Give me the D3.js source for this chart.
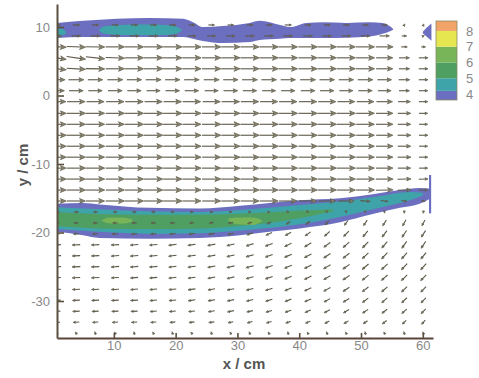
<!DOCTYPE html>
<html>
<head>
<meta charset="utf-8">
<script src="https://cdn.jsdelivr.net/npm/d3@7"></script>
<style>
  html, body { margin: 0; padding: 0; background: #fff; }
  svg { display: block; font-family: "Liberation Sans", Arial, sans-serif; }
</style>
</head>
<body>
<svg id="chart" width="479" height="378"></svg>
<script>
// ---- axis ticks -------------------------------------------------------
const xTicks = [10, 20, 30, 40, 50, 60];
const yTicks = [-30, -20, -10, 0, 10];

// ---- colour key (contour levels) ------------------------------------
const levelBounds = [3.62, 4.2, 5, 6, 7, 8, 8.63];
const levelColors = ["#6c6fc0", "#3fa3aa", "#4f9e62", "#78b458", "#e6e650", "#f2a468"];
const keyTicks = [4, 5, 6, 7, 8];

// ---- measurement grid (cm) ------------------------------------------
const gridX = [0.8, 3.9, 7.0, 10.2, 13.3, 16.4, 19.5, 22.6, 25.8, 28.9,
               32.0, 35.1, 38.2, 41.4, 44.5, 47.6, 50.7, 53.8, 57.0, 60.1];
const gridY = [10.3, 8.7, 7.1, 5.5, 3.9, 2.3, 0.7, -0.9, -2.6, -4.2,
               -5.8, -7.4, -9.0, -10.6, -12.2, -13.8, -15.4, -17.0, -18.6, -20.2,
               -21.8, -23.4, -25.0, -26.6, -28.3, -29.9, -31.5, -33.1, -34.7];

// horizontal velocity, one row per gridY entry
const uGrid = [
  [2.2,2.3,2.2,2.2,2.3,2.2,2.2,2.1,2.0,2.0,2.1,2.1,2.2,2.1,2.1,2.0,2.0,1.8,0.4,0.3],
  [3.0,3.0,3.1,3.1,3.1,3.1,3.0,2.8,2.8,2.9,3.0,3.0,3.0,3.0,3.0,3.0,3.0,3.2,1.6,0.6],
  [6.0,6.1,6.1,6.1,6.1,6.1,6.1,6.1,6.1,6.1,6.1,6.1,6.1,6.1,6.1,6.0,6.0,5.6,2.0,1.4],
  [6.0,6.1,6.1,6.1,6.1,6.1,6.1,6.1,6.1,6.1,6.1,6.1,6.1,6.1,6.1,6.0,6.0,5.4,3.4,3.0],
  [6.0,6.1,6.1,6.1,6.1,6.1,6.1,6.1,6.1,6.1,6.1,6.1,6.1,6.1,6.1,6.0,6.0,5.4,3.5,3.0],
  [5.2,5.0,4.8,5.0,4.8,5.0,4.8,4.9,5.0,4.8,5.0,4.9,4.8,5.0,4.9,4.8,4.9,4.6,3.6,3.0],
  [4.8,4.6,4.5,4.6,4.5,4.4,4.6,4.5,4.4,4.6,4.5,4.4,4.5,4.6,4.5,4.4,4.5,4.3,3.4,2.9],
  [5.8,5.8,5.7,5.8,5.8,5.7,5.8,5.8,5.7,5.8,5.8,5.7,5.8,5.8,5.7,5.6,5.6,5.2,4.0,2.9],
  [6.0,6.1,6.1,6.1,6.1,6.1,6.1,6.1,6.1,6.1,6.1,6.1,6.1,6.1,6.1,6.0,5.9,5.5,4.2,2.8],
  [6.0,6.1,6.1,6.0,6.1,6.1,6.1,6.0,6.1,6.1,6.1,6.0,6.1,6.1,6.1,6.0,5.9,5.5,4.2,2.8],
  [6.1,6.1,6.1,6.1,6.0,6.1,6.1,6.1,6.1,6.0,6.1,6.1,6.1,6.1,6.0,6.0,5.9,5.4,4.3,2.9],
  [6.0,6.1,6.1,6.1,6.1,6.1,6.0,6.1,6.1,6.1,6.1,6.1,6.0,6.1,6.1,6.0,5.9,5.5,4.2,2.8],
  [6.1,6.1,6.0,6.1,6.1,6.1,6.1,6.1,6.0,6.1,6.1,6.1,6.1,6.1,6.1,6.0,5.9,5.5,4.3,2.9],
  [6.0,6.1,6.1,6.1,6.1,6.0,6.1,6.1,6.1,6.1,6.0,6.1,6.1,6.1,6.1,6.0,5.9,5.5,4.2,2.8],
  [6.1,6.1,6.1,6.1,6.1,6.1,6.1,6.0,6.1,6.1,6.1,6.1,6.1,6.0,6.1,6.0,5.9,5.6,4.4,3.0],
  [6.0,6.1,6.1,6.0,6.1,6.1,6.1,6.1,6.1,6.1,6.1,6.0,6.1,6.1,6.1,6.0,6.0,5.6,4.4,3.0],
  [6.0,6.0,6.0,6.1,6.1,6.1,6.1,6.0,6.0,6.0,6.0,6.0,5.9,5.8,5.6,5.2,3.2,2.4,1.8,1.2],
  [1.5,1.5,1.4,1.3,1.3,1.2,1.1,1.0,1.0,0.9,0.8,0.7,0.6,0.5,0.4,0.3,0.2,0.1,0.0,-0.1],
  [-1.4,-1.5,-1.5,-1.6,-1.6,-1.6,-1.6,-1.5,-1.5,-1.5,-1.5,-1.4,-1.3,-1.3,-1.2,-1.2,-1.2,-1.2,-1.1,-1.0],
  [-1.8,-1.8,-1.9,-1.9,-1.9,-1.9,-2.0,-2.0,-2.0,-2.0,-2.0,-2.0,-1.9,-1.8,-1.7,-1.7,-1.6,-1.6,-1.5,-1.4],
  [-2.5,-2.6,-2.6,-2.6,-2.6,-2.6,-2.6,-2.5,-2.5,-2.5,-2.4,-2.4,-2.3,-2.2,-2.1,-2.0,-1.9,-1.8,-1.6,-1.5],
  [-2.6,-2.6,-2.6,-2.6,-2.6,-2.6,-2.6,-2.6,-2.5,-2.5,-2.5,-2.4,-2.4,-2.3,-2.2,-2.1,-2.0,-1.9,-1.8,-1.7],
  [-2.6,-2.7,-2.6,-2.6,-2.6,-2.6,-2.5,-2.5,-2.5,-2.5,-2.5,-2.4,-2.4,-2.3,-2.3,-2.2,-2.1,-2.0,-1.9,-1.8],
  [-2.5,-2.6,-2.6,-2.5,-2.5,-2.5,-2.5,-2.4,-2.4,-2.4,-2.4,-2.4,-2.3,-2.3,-2.2,-2.2,-2.1,-2.0,-1.9,-1.8],
  [-2.5,-2.5,-2.5,-2.5,-2.4,-2.4,-2.4,-2.4,-2.3,-2.3,-2.3,-2.3,-2.2,-2.2,-2.2,-2.1,-2.0,-1.9,-1.8,-1.7],
  [-2.4,-2.4,-2.4,-2.4,-2.4,-2.3,-2.3,-2.3,-2.3,-2.2,-2.2,-2.2,-2.1,-2.1,-2.0,-2.0,-1.9,-1.8,-1.7,-1.6],
  [-2.2,-2.3,-2.2,-2.2,-2.2,-2.2,-2.1,-2.1,-2.1,-2.1,-2.0,-2.0,-2.0,-1.9,-1.9,-1.8,-1.8,-1.7,-1.6,-1.5],
  [-1.9,-2.0,-1.9,-1.9,-1.9,-1.8,-1.8,-1.8,-1.8,-1.7,-1.7,-1.7,-1.6,-1.6,-1.5,-1.5,-1.4,-1.4,-1.3,-1.2],
  [-0.4,-0.6,-0.3,-0.6,-0.2,-0.5,-0.3,-0.6,-0.2,-0.5,-0.3,-0.5,-0.2,-0.5,-0.3,-0.5,-0.2,-0.5,-0.3,-0.4]
];

// vertical velocity, same layout
const vGrid = [
  [0,0,0,0,0,0,0,0,0,0,0,0,0,0,0,0,0,0,0.6,0.6],
  [0,0,0,0,0,0,0,0,0,0,0,0,0,0,0,0,0,0,0,0.3],
  [-0.2,-0.2,-0.1,0,0,0,0,0,0,0,0,0,0,0,0,0,0,0,0,0],
  [-0.9,-0.8,-0.6,-0.2,0,0,0,0,0,0,0,0,0,0,0,0,0,0,0,0],
  [-0.6,-0.3,-0.1,0,0,0,0,0,0,0,0,0,0,0,0,0,0,0,0,0],
  [0,0,0,0,0,0,0,0,0,0,0,0,0,0,0,0,0,0,0,0],
  [0,0,0,0,0,0,0,0,0,0,0,0,0,0,0,0,0,0,0,0],
  [0,0,0,0,0,0,0,0,0,0,0,0,0,0,0,0,0,0,0,0],
  [0,0,0,0,0,0,0,0,0,0,0,0,0,0,0,0,0,0,0,0],
  [0,0,0,0,0,0,0,0,0,0,0,0,0,0,0,0,0,0,0,0],
  [0,0,0,0,0,0,0,0,0,0,0,0,0,0,0,0,0,0,0,0],
  [0,0,0,0,0,0,0,0,0,0,0,0,0,0,0,0,0,0,0,0],
  [0,0,0,0,0,0,0,0,0,0,0,0,0,0,0,0,0,0,0,0],
  [0,0,0,0,0,0,0,0,0,0,0,0,0,0,0,0,0,0,0,0],
  [0,0,0,0,0,0,0,0,0,0,0,0,0,0,0,0,0,0,0.1,0.1],
  [0,0,0,0,0,0,0,0,0,0,0,0,0,0,0,0,0,0.1,0.1,0.1],
  [0,0,0,0,0,0,0,0,0,0,0,0,0,0,0,0,-0.2,-0.3,-0.3,-0.2],
  [0,0,0,0,0,0,0,0,0,0,0,-0.1,-0.2,-0.3,-0.4,-0.5,-0.6,-0.7,-0.8,-0.8],
  [0,0,0,0,0,0,0,-0.1,-0.2,-0.3,-0.4,-0.6,-0.8,-1.0,-1.2,-1.4,-1.6,-1.7,-1.8,-1.7],
  [-0.1,-0.1,-0.1,-0.1,-0.1,-0.1,-0.2,-0.2,-0.3,-0.4,-0.6,-0.8,-1.0,-1.2,-1.4,-1.6,-1.8,-1.9,-2.0,-1.9],
  [-0.1,-0.1,-0.1,-0.1,-0.2,-0.2,-0.3,-0.3,-0.4,-0.5,-0.7,-0.8,-1.0,-1.2,-1.4,-1.6,-1.8,-1.9,-2.0,-2.0],
  [-0.1,-0.1,-0.1,-0.2,-0.2,-0.2,-0.3,-0.3,-0.4,-0.5,-0.6,-0.8,-0.9,-1.1,-1.3,-1.5,-1.7,-1.8,-1.9,-1.9],
  [-0.1,-0.1,-0.1,-0.2,-0.2,-0.2,-0.3,-0.3,-0.4,-0.5,-0.6,-0.7,-0.9,-1.0,-1.2,-1.4,-1.6,-1.7,-1.8,-1.8],
  [-0.1,-0.1,-0.1,-0.1,-0.2,-0.2,-0.3,-0.3,-0.4,-0.5,-0.6,-0.7,-0.8,-1.0,-1.1,-1.3,-1.5,-1.6,-1.7,-1.7],
  [-0.1,-0.1,-0.1,-0.1,-0.2,-0.2,-0.2,-0.3,-0.4,-0.4,-0.5,-0.6,-0.8,-0.9,-1.1,-1.2,-1.4,-1.5,-1.6,-1.6],
  [-0.1,-0.1,-0.1,-0.1,-0.1,-0.2,-0.2,-0.3,-0.3,-0.4,-0.5,-0.6,-0.7,-0.8,-1.0,-1.1,-1.3,-1.4,-1.5,-1.5],
  [-0.1,-0.1,-0.1,-0.1,-0.1,-0.2,-0.2,-0.2,-0.3,-0.4,-0.4,-0.5,-0.6,-0.7,-0.9,-1.0,-1.1,-1.2,-1.3,-1.4],
  [0,-0.1,-0.1,-0.1,-0.1,-0.1,-0.2,-0.2,-0.2,-0.3,-0.4,-0.4,-0.5,-0.6,-0.7,-0.8,-0.9,-1.0,-1.1,-1.2],
  [0.9,0.7,0.9,0.6,0.9,0.7,0.9,0.6,0.9,0.7,0.9,0.7,0.9,0.6,0.9,0.7,0.9,0.7,0.9,0.8]
];

// ---- contour regions: station x with lower / upper edges (cm) -------
// upper shear layer
const upperOuterX  = [0.8, 5.0, 10.5, 15.8, 21.2, 22.8, 24.4, 27.6, 32.0, 33.6, 36.9, 38.5, 41.2, 43.8, 47.7, 51.4, 53.5, 54.7, 55.2];
const upperOuterHi = [10.6, 10.9, 11.2, 11.3, 11.2, 10.7, 10.0, 10.15, 10.6, 10.9, 10.3, 10.0, 10.6, 10.7, 10.6, 10.7, 10.6, 10.1, 9.7];
const upperOuterLo = [8.4, 8.55, 8.55, 8.55, 8.55, 8.3, 7.95, 7.65, 7.8, 8.1, 8.3, 8.4, 8.4, 8.4, 8.45, 8.6, 9.0, 9.4, 9.6];
const upperCoreX   = [7.6, 8.5, 11.0, 15.0, 18.5, 20.3, 21.0];
const upperCoreHi  = [9.6, 10.1, 10.3, 10.35, 10.3, 10.0, 9.6];
const upperCoreLo  = [9.5, 9.0, 8.85, 8.8, 8.85, 9.1, 9.5];
const upperEdgeX   = [0.8, 1.5, 2.3];
const upperEdgeHi  = [9.7, 9.8, 9.3];
const upperEdgeLo  = [8.6, 8.7, 9.1];
const cornerX      = [60.0, 60.6, 61.4];
const cornerHi     = [9.3, 9.9, 10.5];
const cornerLo     = [9.1, 8.6, 8.0];

// lower shear layer
const lowerOuterX  = [0.8, 5.0, 7.7, 15.8, 23.9, 30.4, 35.2, 40.1, 46.6, 51.9, 56.3, 59.5, 61.3];
const lowerOuterHi = [-15.8, -15.7, -15.9, -16.4, -16.5, -16.1, -15.7, -15.3, -15.0, -14.4, -13.8, -13.5, -13.6];
const lowerOuterLo = [-19.9, -20.4, -20.8, -20.9, -20.8, -20.4, -19.9, -19.4, -18.5, -17.3, -16.4, -15.8, -15.0];
const lowerMidX    = [0.8, 7.7, 15.8, 23.9, 32.0, 40.1, 48.2, 53.0, 57.9, 60.0];
const lowerMidHi   = [-16.3, -16.6, -16.9, -17.0, -16.6, -16.0, -15.3, -14.7, -14.1, -14.2];
const lowerMidLo   = [-19.5, -19.9, -20.2, -20.1, -19.6, -18.8, -17.4, -16.4, -15.3, -14.6];
const lowerCoreX   = [0.8, 7.7, 15.8, 23.9, 32.0, 40.1, 45.5];
const lowerCoreHi  = [-17.0, -17.3, -17.4, -17.4, -17.2, -16.8, -16.6];
const lowerCoreLo  = [-19.1, -19.4, -19.5, -19.4, -18.9, -17.9, -16.9];
const peakAX       = [8.0, 9.5, 11.5, 13.0];
const peakAHi      = [-18.2, -17.8, -17.8, -18.1];
const peakALo      = [-18.3, -18.7, -18.7, -18.4];
const peakBX       = [28.5, 30.0, 32.5, 34.0];
const peakBHi      = [-18.0, -17.8, -17.8, -18.2];
const peakBLo      = [-18.2, -18.8, -18.9, -18.4];
const wallX        = [61.0, 61.35];
const wallHi       = [-11.6, -11.6];
const wallLo       = [-17.2, -17.2];

// ---- layout ---------------------------------------------------------
const svg = d3.select("#chart");
const plot = { left: 57, right: 433, top: 4, bottom: 338 };

const x = d3.scaleLinear().domain([0.8, 61.65]).range([plot.left, plot.right]);
const y = d3.scaleLinear().domain([-35.4, 13.36]).range([plot.bottom, plot.top]);
const levelColor = d3.scaleThreshold().domain(levelBounds.slice(1, -1)).range(levelColors);
const plainNumber = d => String(d); // keeps the ASCII hyphen for negatives

svg.append("defs").append("clipPath").attr("id", "plotClip")
  .append("rect")
  .attr("x", plot.left).attr("y", plot.top)
  .attr("width", plot.right - plot.left).attr("height", plot.bottom - plot.top);

const field = svg.append("g").attr("clip-path", "url(#plotClip)");

// contour fills
function band(xs, lo, hi, level, curve) {
  const rows = xs.map((d, i) => ({ x: d, lo: lo[i], hi: hi[i] }));
  const area = d3.area()
    .x(d => x(d.x)).y0(d => y(d.lo)).y1(d => y(d.hi))
    .curve(curve || d3.curveMonotoneX);
  field.append("path").datum(rows)
    .attr("d", area)
    .attr("fill", levelColor(level));
}
band(upperOuterX, upperOuterLo, upperOuterHi, 3.9);
band(upperCoreX, upperCoreLo, upperCoreHi, 4.5);
band(upperEdgeX, upperEdgeLo, upperEdgeHi, 4.5);
band(cornerX, cornerLo, cornerHi, 3.9, d3.curveLinear);
band(lowerOuterX, lowerOuterLo, lowerOuterHi, 3.9);
band(lowerMidX, lowerMidLo, lowerMidHi, 4.5);
band(lowerCoreX, lowerCoreLo, lowerCoreHi, 5.5);
band(peakAX, peakALo, peakAHi, 6.5);
band(peakBX, peakBLo, peakBHi, 6.5);
band(wallX, wallLo, wallHi, 3.9, d3.curveLinear);

// velocity vectors, centred on their grid points
const vecScale = 0.5; // cm of plot per unit of velocity
const vectors = [];
gridY.forEach((gy, j) => gridX.forEach((gx, i) => {
  vectors.push({ gx, gy, u: uGrid[j][i], v: vGrid[j][i] });
}));

const arrows = field.append("g");
vectors.forEach(d => {
  const x0 = x(d.gx - d.u * vecScale / 2), y0 = y(d.gy - d.v * vecScale / 2);
  const x1 = x(d.gx + d.u * vecScale / 2), y1 = y(d.gy + d.v * vecScale / 2);
  const dx = x1 - x0, dy = y1 - y0;
  const len = Math.hypot(dx, dy);
  if (len < 0.5) return;
  const ux = dx / len, uy = dy / len;
  const h = Math.min(6, Math.max(2.4, 0.32 * len));
  const w = h * 0.42;
  const bx = x1 - ux * h, by = y1 - uy * h;
  const nx = x1 - ux * h * 0.72, ny = y1 - uy * h * 0.72;
  arrows.append("line")
    .attr("x1", x0).attr("y1", y0).attr("x2", nx).attr("y2", ny)
    .attr("stroke", "#5c5848").attr("stroke-width", 1.1);
  arrows.append("path")
    .attr("d", `M${x1},${y1}L${bx - uy * w},${by + ux * w}L${nx},${ny}L${bx + uy * w},${by - ux * w}Z`)
    .attr("fill", "#8c8872").attr("stroke", "#5c5848").attr("stroke-width", 0.7)
    .attr("stroke-linejoin", "round");
});

// axes
const axisColor = "#5b5040";
const xAxis = svg.append("g")
  .attr("transform", `translate(0,${plot.bottom})`)
  .call(d3.axisBottom(x).tickValues(xTicks).tickFormat(plainNumber)
    .tickSizeInner(-5).tickSizeOuter(0).tickPadding(3));
const yAxis = svg.append("g")
  .attr("transform", `translate(${plot.left},0)`)
  .call(d3.axisLeft(y).tickValues(yTicks).tickFormat(plainNumber)
    .tickSizeInner(-7).tickSizeOuter(0).tickPadding(7));

[xAxis, yAxis].forEach(g => {
  g.select(".domain").attr("stroke", axisColor).attr("stroke-width", 2);
  g.selectAll(".tick line").attr("stroke", axisColor).attr("stroke-width", 1.6);
  g.selectAll(".tick text").attr("fill", "#888").attr("font-size", 13)
    .attr("font-family", "'Liberation Sans', Arial, sans-serif");
});
xAxis.select(".domain").attr("stroke", "#5a443a");

svg.append("text")
  .attr("x", 244).attr("y", 369)
  .attr("text-anchor", "middle")
  .attr("font-size", 15).attr("font-weight", "bold").attr("fill", "#555")
  .text("x / cm");

svg.append("text")
  .attr("transform", "translate(28,165) rotate(-90)")
  .attr("text-anchor", "middle")
  .attr("font-size", 15).attr("font-weight", "bold").attr("fill", "#555")
  .text("y / cm");

// colour key
const keyY = d3.scaleLinear().domain([levelBounds[0], levelBounds[levelBounds.length - 1]]).range([100, 21]);
const key = svg.append("g").attr("transform", "translate(436,0)");
const keyW = 21;
levelColors.forEach((c, i) => {
  key.append("rect")
    .attr("x", 0).attr("width", keyW)
    .attr("y", keyY(levelBounds[i + 1]))
    .attr("height", keyY(levelBounds[i]) - keyY(levelBounds[i + 1]))
    .attr("fill", c);
});
key.append("rect")
  .attr("x", 0).attr("y", keyY(levelBounds[levelBounds.length - 1]))
  .attr("width", keyW).attr("height", keyY(levelBounds[0]) - keyY(levelBounds[levelBounds.length - 1]))
  .attr("fill", "none").attr("stroke", "#8a8a6a").attr("stroke-width", 0.8);
const keyAxis = key.append("g")
  .attr("transform", `translate(${keyW},0)`)
  .call(d3.axisRight(keyY).tickValues(keyTicks).tickFormat(plainNumber)
    .tickSize(0).tickPadding(9));
keyAxis.select(".domain").remove();
keyAxis.selectAll(".tick text").attr("fill", "#888").attr("font-size", 13)
  .attr("font-family", "'Liberation Sans', Arial, sans-serif");
</script>
</body>
</html>
